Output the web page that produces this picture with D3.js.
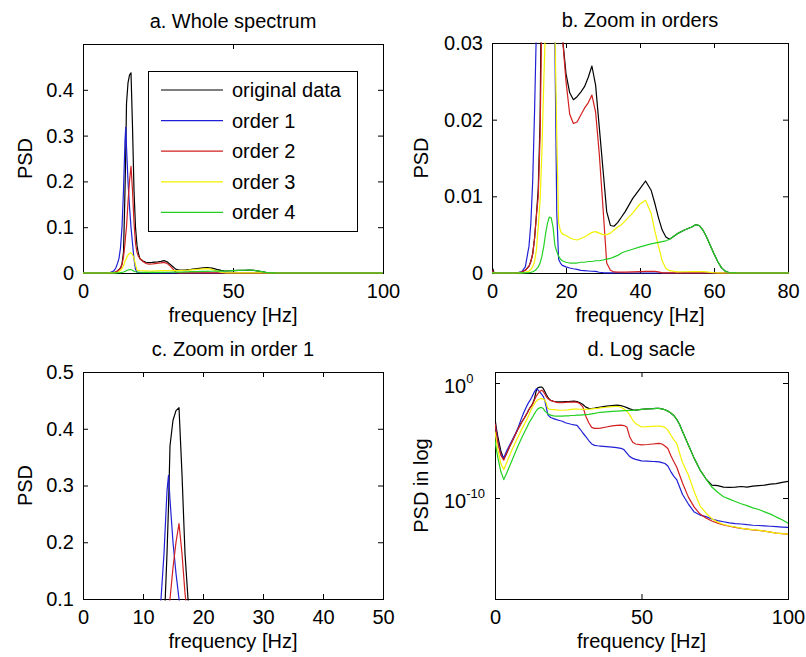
<!DOCTYPE html>
<html><head><meta charset="utf-8">
<script src="https://cdn.jsdelivr.net/npm/d3@7"></script>
<style>
body{margin:0;background:#fff;}
svg{display:block;}
text{font-family:"Liberation Sans",Arial,Helvetica,sans-serif;fill:#000;}
</style></head><body>
<svg id="chart" width="806" height="657"></svg>
<script>
// ---------- data (frequency grid in Hz, PSD values) ----------
const freq = [0,0.5,1,2,3,4,5,6,7,8,9,
  10,10.5,11,11.5,12,12.5,13,13.5,14,14.25,14.5,15,15.5,16,16.5,17,17.5,18,18.5,19,
  20,21,22,23,24,25,26,27,28,29,30,31,32,33,34,35,36,
  38,40,41.5,43,44,45,46,47,48,
  50,52,54,55,56,57,58,59,60,61,62,63,64,
  66,68,70,72,74,76,78,80,82,84,86,88,90,92,94,96,98,100];

const originalData = [8.5e-4,1e-4,2e-5,1.2e-6,2.5e-7,8e-7,3e-6,1e-5,3.5e-5,1.2e-4,3.5e-4,
  9e-4,0.0015,0.0025,0.0045,0.0075,0.011,0.02,0.045,0.18,0.262,0.37,0.415,0.432,0.437,0.32,0.18,0.1,0.06,0.042,0.031,
  0.026,0.0235,0.0226,0.023,0.0236,0.0243,0.0255,0.027,0.0245,0.019,0.0135,0.008,0.0062,0.0061,0.0066,0.0073,0.008,
  0.0097,0.011,0.012,0.0108,0.0091,0.0072,0.0056,0.0047,0.0044,
  0.0051,0.0056,0.006,0.0063,0.0062,0.0056,0.0047,0.0036,0.0025,0.0015,7e-4,2.5e-4,6e-5,
  4e-6,2.8e-7,2.7e-8,4.7e-9,1.3e-9,1.2e-9,9e-10,8.5e-10,9e-10,1e-9,9e-10,1.1e-9,1.2e-9,1.3e-9,1.6e-9,1.8e-9,2.3e-9,2.8e-9];

const order1 = [2.5e-4,5e-5,8e-6,6.3e-7,3.2e-7,1.3e-6,4e-6,1.3e-5,4e-5,1.6e-4,8e-4,
  0.0035,0.0065,0.012,0.021,0.032,0.055,0.1,0.18,0.29,0.318,0.275,0.2,0.145,0.1,0.065,0.03,0.008,0.0018,0.0013,0.001,
  8e-4,6.5e-4,5.5e-4,4.7e-4,3.5e-4,3e-4,2.6e-4,2.3e-4,2.1e-4,1e-4,4.5e-5,2.2e-5,1e-5,5e-6,3.8e-6,3.5e-6,3.3e-6,
  3e-6,2.7e-6,2.4e-6,2.1e-6,1.6e-6,8e-7,4e-7,2.8e-7,2.3e-7,
  1.7e-7,1.6e-7,1.5e-7,1.45e-7,1.4e-7,1.2e-7,1e-7,6e-8,2e-8,8e-9,4e-9,9e-10,2e-10,
  3e-11,6e-12,3.3e-12,2.4e-12,1.5e-12,1.1e-12,8.7e-13,7e-13,6e-13,5.5e-13,4.8e-13,4.3e-13,4.1e-13,3.8e-13,3.5e-13,3.2e-13,3e-13,2.8e-13];

const order2 = [3e-4,4e-5,6e-6,5e-7,2e-7,8e-7,3e-6,1e-5,3.5e-5,1.2e-4,3.5e-4,
  9e-4,0.0015,0.0025,0.0045,0.0075,0.01,0.018,0.035,0.065,0.085,0.1,0.155,0.2,0.233,0.18,0.11,0.065,0.045,0.036,0.031,
  0.025,0.0207,0.0195,0.0197,0.0206,0.0215,0.0222,0.0232,0.021,0.0155,0.0085,0.0013,3.5e-4,1.4e-4,1.15e-4,1.15e-4,1.2e-4,
  1.5e-4,1.9e-4,2.1e-4,2.2e-4,2e-4,1.5e-4,2e-5,7e-6,5e-6,
  4.2e-6,4.5e-6,5e-6,5.3e-6,5.6e-6,5e-6,3.3e-6,2e-6,5e-7,1.5e-7,5e-8,1e-8,2e-9,
  1.2e-10,1.6e-11,4e-12,1.8e-12,1e-12,6.5e-13,4.5e-13,3.5e-13,2.8e-13,2.3e-13,2e-13,1.7e-13,1.5e-13,1.3e-13,1.1e-13,9e-14,8e-14,7.4e-14];

const order3 = [6e-5,8e-6,1.5e-6,1e-7,3e-8,1.2e-7,5e-7,2e-6,7e-6,2.5e-5,8e-5,
  2.5e-4,4.5e-4,8e-4,0.0015,0.003,0.006,0.0095,0.016,0.025,0.029,0.033,0.039,0.043,0.044,0.04,0.032,0.018,0.0065,0.0055,0.0051,
  0.0049,0.0046,0.0044,0.0043,0.0045,0.0047,0.005,0.0053,0.0054,0.0052,0.005,0.005,0.0052,0.0056,0.006,0.0063,0.0068,
  0.0078,0.009,0.0095,0.0078,0.0055,0.0035,0.0016,6e-4,3e-4,
  1.5e-4,1.6e-4,1.7e-4,1.75e-4,1.8e-4,1.7e-4,1.4e-4,8e-5,3e-5,1.2e-5,5.6e-6,8e-7,1.2e-7,
  1e-8,3.5e-10,2e-11,5e-12,1.6e-12,8e-13,5e-13,3.8e-13,3e-13,2.4e-13,2e-13,1.8e-13,1.6e-13,1.3e-13,1.1e-13,9e-14,8e-14,7.4e-14];

const order4 = [1e-5,1.5e-6,3e-7,2e-8,4e-9,1.5e-8,6e-8,2.5e-7,1e-6,4e-6,1.5e-5,
  5e-5,9e-5,1.6e-4,3e-4,5e-4,8e-4,0.0013,0.0022,0.0035,0.0043,0.0052,0.0065,0.0073,0.0072,0.006,0.0036,0.0028,0.0022,0.0018,0.0016,
  0.0014,0.0013,0.0013,0.0013,0.0014,0.0014,0.0015,0.0015,0.0016,0.0016,0.0017,0.0018,0.0019,0.0021,0.0023,0.0026,0.0028,
  0.0031,0.0034,0.0036,0.0038,0.0039,0.004,0.0041,0.0042,0.0044,
  0.0051,0.0056,0.006,0.0063,0.0062,0.0056,0.0047,0.0036,0.0025,0.0015,7e-4,2.5e-4,6e-5,
  4e-6,2.8e-7,2.7e-8,4.7e-9,9e-10,3.2e-10,1.3e-10,8e-11,5e-11,3.2e-11,2.2e-11,1.4e-11,1e-11,6.3e-12,4e-12,2.2e-12,1.3e-12,6.3e-13];

const seriesNames = ["original data","order 1","order 2","order 3","order 4"];
const seriesValues = [originalData, order1, order2, order3, order4];

// tick values / labels
const xTicksA = [0,50,100],        yTicksA = [0,0.1,0.2,0.3,0.4];
const xTicksB = [0,20,40,60,80],   yTicksB = [0,0.01,0.02,0.03];
const xTicksC = [0,10,20,30,40,50],yTicksC = [0.1,0.2,0.3,0.4,0.5];
const xTicksD = [0,50,100],        yTicksD = [1,1e-10];
const titles = ["a. Whole spectrum","b. Zoom in orders","c. Zoom in order 1","d. Log sacle"];
const xLabel = "frequency [Hz]";
const yLabels = ["PSD","PSD","PSD","PSD in log"];

// ---------- styling / layout ----------
const seriesColors = ["#000000","#1f1fd6","#d21f1f","#f2f200","#22d022"];
const FONT = 20;
const panels = [
  {left:83, right:383, top:44, bottom:273, xDomain:[0,100], yDomain:[0,0.5], xt:xTicksA, yt:yTicksA, ylx:32, log:false, legend:true},
  {left:492, right:788, top:43, bottom:273, xDomain:[0,80], yDomain:[0,0.03], xt:xTicksB, yt:yTicksB, ylx:428, log:false},
  {left:83, right:383, top:372, bottom:599, xDomain:[0,50], yDomain:[0.1,0.5], xt:xTicksC, yt:yTicksC, ylx:32, log:false},
  {left:495, right:788, top:372, bottom:599, xDomain:[0,100], yDomain:[Math.pow(10,-18.78), Math.pow(10,0.957)], xt:xTicksD, yt:yTicksD, ylx:428, log:true}
];

const svg = d3.select("#chart");
svg.append("rect").attr("width",806).attr("height",657).attr("fill","#fff");

panels.forEach((p, i) => {
  const g = svg.append("g");
  const x = d3.scaleLinear().domain(p.xDomain).range([p.left, p.right]);
  const y = (p.log ? d3.scaleLog() : d3.scaleLinear()).domain(p.yDomain).range([p.bottom, p.top]);

  // box
  g.append("rect").attr("x",p.left+0.5).attr("y",p.top+0.5)
    .attr("width",p.right-p.left).attr("height",p.bottom-p.top)
    .attr("fill","#fff").attr("stroke","#000").attr("stroke-width",1);

  const styleAxis = sel => {
    sel.select(".domain").remove();
    sel.attr("font-size",FONT).attr("font-family",'"Liberation Sans",Arial,sans-serif');
    sel.selectAll(".tick line").attr("stroke","#000");
    sel.selectAll(".tick text").attr("fill","#000");
  };

  // bottom & top x axes
  g.append("g").attr("transform",`translate(0,${p.bottom})`)
    .call(d3.axisBottom(x).tickValues(p.xt).tickSize(-5).tickSizeOuter(0).tickPadding(10.5).tickFormat(d=>String(d)))
    .call(styleAxis);
  g.append("g").attr("transform",`translate(0,${p.top})`)
    .call(d3.axisTop(x).tickValues(p.xt).tickSize(-5).tickSizeOuter(0).tickFormat(""))
    .call(styleAxis);

  // left & right y axes
  if (!p.log) {
    g.append("g").attr("transform",`translate(${p.left},0)`)
      .call(d3.axisLeft(y).tickValues(p.yt).tickSize(-5).tickSizeOuter(0).tickPadding(9).tickFormat(d=>String(d)))
      .call(styleAxis);
  } else {
    const ay = g.append("g").attr("transform",`translate(${p.left},0)`)
      .call(d3.axisLeft(y).tickValues(p.yt).tickSize(-5).tickSizeOuter(0).tickFormat(""))
      .call(styleAxis);
    ay.selectAll(".tick").each(function(d){
      const t = d3.select(this).append("text").attr("x",-51).attr("y",9)
        .attr("text-anchor","start").attr("fill","#000");
      t.append("tspan").text("10");
      t.append("tspan").attr("dy",-10).attr("font-size",13).text(String(Math.round(Math.log10(d))));
    });
  }
  g.append("g").attr("transform",`translate(${p.right},0)`)
    .call(d3.axisRight(y).tickValues(p.yt).tickSize(-5).tickSizeOuter(0).tickFormat(""))
    .call(styleAxis);

  // clip
  const cid = "clip"+i;
  svg.append("defs").append("clipPath").attr("id",cid).append("rect")
    .attr("x",p.left).attr("y",p.top-0.5).attr("width",p.right-p.left+1).attr("height",p.bottom-p.top+2);

  const line = d3.line().x(d=>x(d[0])).y(d=>y(d[1]));
  const lg = g.append("g").attr("clip-path",`url(#${cid})`);
  seriesValues.forEach((vals, k) => {
    const pts = freq.map((f, j) => [f, vals[j]]).filter(d => d[0] <= p.xDomain[1] + 2);
    lg.append("path").datum(pts).attr("d",line)
      .attr("fill","none").attr("stroke",seriesColors[k]).attr("stroke-width",1.2)
      .attr("stroke-linejoin","round");
  });

  // title & labels
  const cx = (p.left + p.right)/2;
  g.append("text").attr("x",cx).attr("y",p.top-16).attr("text-anchor","middle")
    .attr("font-size",FONT).text(titles[i]);
  g.append("text").attr("x",cx).attr("y",p.bottom+49).attr("text-anchor","middle")
    .attr("font-size",FONT).text(xLabel);
  g.append("text").attr("transform",`translate(${p.ylx},${(p.top+p.bottom)/2}) rotate(-90)`)
    .attr("text-anchor","middle").attr("font-size",FONT).text(yLabels[i]);

  // legend
  if (p.legend) {
    const L = p.left + 65, T = p.top + 27, W = 209, H = 160;
    const leg = g.append("g");
    leg.append("rect").attr("x",L+0.5).attr("y",T+0.5).attr("width",W).attr("height",H)
      .attr("fill","#fff").attr("stroke","#000").attr("stroke-width",1);
    seriesNames.forEach((name, k) => {
      const ry = T + 19 + k*30.6;
      leg.append("line").attr("x1",L+13).attr("x2",L+75).attr("y1",ry).attr("y2",ry)
        .attr("stroke",seriesColors[k]).attr("stroke-width",1.2);
      leg.append("text").attr("x",L+84).attr("y",ry+7).attr("font-size",FONT).text(name);
    });
  }
});
</script>
</body></html>
